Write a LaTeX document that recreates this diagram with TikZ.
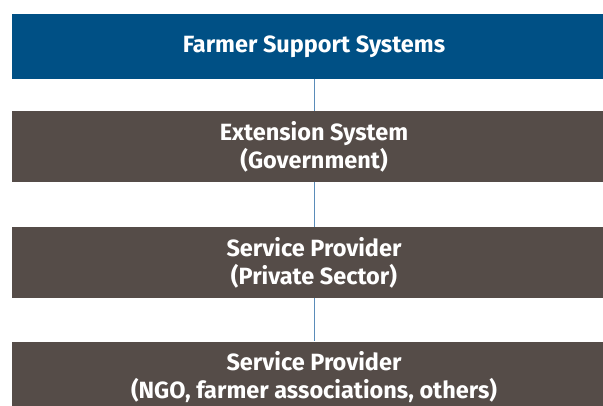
\documentclass[tikz,border=0pt]{standalone}
\usepackage{fontspec}
\setmainfont{Fira Sans}
\definecolor{hdrblue}{RGB}{0,80,133}
\definecolor{boxbrown}{RGB}{85,76,72}
\definecolor{linkblue}{RGB}{90,140,185}
\tikzset{
  hdr/.style={fill=hdrblue, text=white, minimum width=604pt, minimum height=65pt, inner sep=0pt, align=center, font=\fontsize{23.5}{28}\selectfont\bfseries},
  level/.style={fill=boxbrown, text=white, minimum width=604pt, minimum height=71pt, inner sep=0pt, align=center, font=\fontsize{23.5}{28}\selectfont\bfseries},
  link/.style={draw=linkblue, line width=0.9pt}
}
\begin{document}
\begin{tikzpicture}[x=1pt,y=-1pt]
\clip (0,0) rectangle (603,405);
\fill[white] (0,0) rectangle (603,405);
\node[hdr] (top) at (314,46.5) {Farmer Support Systems};
\node[level] (ext) at (314,146.5) {Extension System\\(Government)};
\node[level] (priv) at (314,262.5) {Service Provider\\(Private Sector)};
\node[level] (ngo) at (314,377) {Service Provider\\(NGO, farmer associations, others)};
\draw[link] (top.south) -- (ext.north);
\draw[link] (ext.south) -- (priv.north);
\draw[link] (priv.south) -- (ngo.north);
\end{tikzpicture}
\end{document}
